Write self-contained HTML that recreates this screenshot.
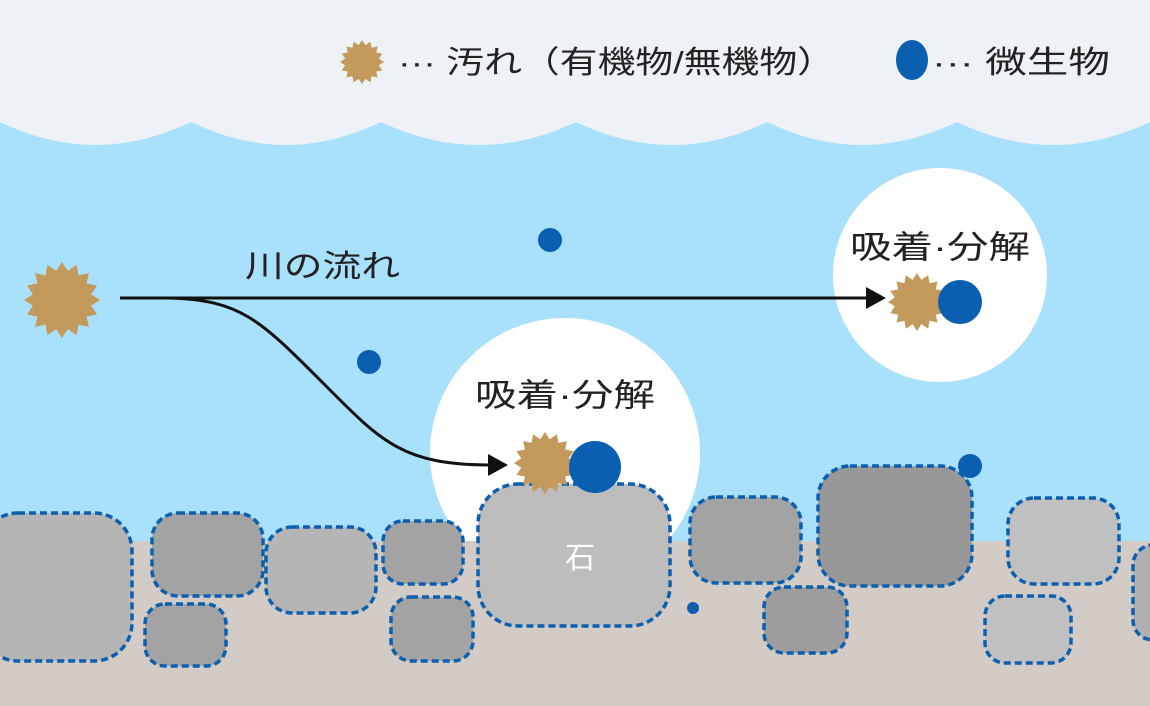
<!DOCTYPE html>
<html><head><meta charset="utf-8"><style>
html,body{margin:0;padding:0;background:#fff}
svg{display:block}
text{font-family:"Liberation Sans","Noto Sans CJK JP",sans-serif;fill:#222}
</style></head><body>
<svg width="1150" height="706" viewBox="0 0 1150 706" xmlns="http://www.w3.org/2000/svg">
<defs>
<polygon id="st" fill="#c49a5c" points="100,0 76.5,15.2 92.4,38.3 64.8,43.4 70.7,70.7 43.4,64.8 38.3,92.4 15.2,76.5 0,100 -15.2,76.5 -38.3,92.4 -43.4,64.8 -70.7,70.7 -64.8,43.4 -92.4,38.3 -76.5,15.2 -100,0 -76.5,-15.2 -92.4,-38.3 -64.8,-43.4 -70.7,-70.7 -43.4,-64.8 -38.3,-92.4 -15.2,-76.5 0,-100 15.2,-76.5 38.3,-92.4 43.4,-64.8 70.7,-70.7 64.8,-43.4 92.4,-38.3 76.5,-15.2"/>
</defs>
<rect width="1150" height="706" fill="#a9e0fb"/>
<path fill="#eef1f6" d="M0,0 H1150 V122 Q1053,168 957,122 Q862,168 767,122 Q672,168 576,122 Q479,168 381,122 Q286,168 191,122 Q95,168 0,122 Z"/>
<circle cx="940" cy="275" r="107" fill="#fff"/>
<circle cx="565" cy="453" r="135" fill="#fff"/>
<rect x="0" y="541" width="1150" height="165" fill="#d3cbc5"/>
<g stroke="#0a5fb0" stroke-width="3.5" stroke-dasharray="7,4">
<rect x="-20" y="513" width="152" height="148" rx="38" fill="#b5b5b5"/>
<rect x="152" y="513" width="111" height="83" rx="26" fill="#a3a3a3"/>
<rect x="145" y="604" width="81" height="62" rx="20" fill="#a3a3a3"/>
<rect x="266" y="527" width="110" height="86" rx="26" fill="#b5b5b5"/>
<rect x="383" y="521" width="80" height="63" rx="20" fill="#a3a3a3"/>
<rect x="391" y="597" width="82" height="64" rx="20" fill="#a3a3a3"/>
<rect x="478" y="484" width="192" height="142" rx="40" fill="#bdbdbd"/>
<rect x="690" y="497" width="111" height="86" rx="26" fill="#a3a3a3"/>
<rect x="764" y="587" width="83" height="66" rx="20" fill="#9d9d9d"/>
<rect x="818" y="466" width="154" height="120" rx="32" fill="#989898"/>
<rect x="1008" y="498" width="111" height="86" rx="26" fill="#c0c0c0"/>
<rect x="985" y="596" width="86" height="67" rx="20" fill="#c0c0c0"/>
<rect x="1133" y="545" width="40" height="95" rx="20" fill="#b0b0b0"/>
</g>
<text x="580" y="568" font-size="30" text-anchor="middle" style="fill:#fff">石</text>
<g fill="#0a5fb0">
<circle cx="550" cy="240" r="12"/>
<circle cx="369" cy="362" r="12"/>
<circle cx="970" cy="466" r="12"/>
<circle cx="693" cy="608" r="6"/>
</g>
<g stroke="#111" stroke-width="3" fill="none">
<line x1="120" y1="298" x2="868" y2="298"/>
<path d="M170,298 C240,300 260,320 320,380 C380,440 400,465 490,465"/>
</g>
<polygon points="866,287 886,298 866,309" fill="#111"/>
<polygon points="488,454 508,465 488,476" fill="#111"/>
<use href="#st" transform="translate(62,300) scale(0.38)"/>
<use href="#st" transform="translate(545,463) scale(0.31)"/>
<circle cx="595" cy="467" r="26" fill="#0a5fb0"/>
<use href="#st" transform="translate(917,302) scale(0.29)"/>
<circle cx="960" cy="302" r="22" fill="#0a5fb0"/>
<text x="245" y="277" font-size="31" textLength="155" lengthAdjust="spacingAndGlyphs">川の流れ</text>
<text x="475" y="406" font-size="32" textLength="180" lengthAdjust="spacingAndGlyphs">吸着·分解</text>
<text x="850" y="258" font-size="32" textLength="180" lengthAdjust="spacingAndGlyphs">吸着·分解</text>
<use href="#st" transform="translate(362,62) scale(0.22)"/>
<text x="398" y="73" font-size="31" textLength="437" lengthAdjust="spacingAndGlyphs">··· 汚れ（有機物/無機物）</text>
<ellipse cx="912" cy="60" rx="16" ry="20" fill="#0a5fb0"/>
<text x="932" y="73" font-size="31" textLength="178" lengthAdjust="spacingAndGlyphs">··· 微生物</text>
</svg>
</body></html>
